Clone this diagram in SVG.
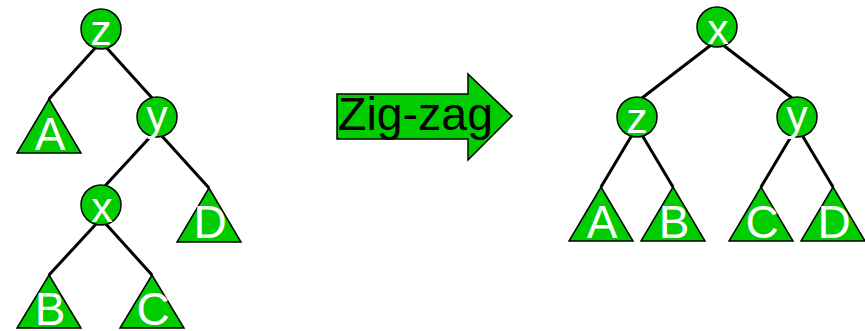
<svg xmlns="http://www.w3.org/2000/svg" width="865" height="331" viewBox="0 0 865 331">
<style>
.n{fill:#00cc00;stroke:#000;stroke-width:1.5}
.e{stroke:#000;stroke-width:3;fill:none}
.cl{font-family:"Liberation Sans",Arial,sans-serif;font-size:43px;fill:#fff;text-anchor:middle}
.tl{font-family:"Liberation Sans",Arial,sans-serif;font-size:46px;fill:#fff;text-anchor:middle}
</style>
<rect width="865" height="331" fill="#fff"/>
<g id="connectors">
<line class="e" x1="97" y1="46" x2="49" y2="99"/>
<line class="e" x1="105" y1="46" x2="153" y2="99"/>
<line class="e" x1="152" y1="135" x2="104" y2="187"/>
<line class="e" x1="161" y1="135" x2="209" y2="188"/>
<line class="e" x1="97" y1="223" x2="49" y2="275"/>
<line class="e" x1="105" y1="223" x2="152" y2="275"/>
<line class="e" x1="711" y1="45" x2="642" y2="98"/>
<line class="e" x1="723" y1="45" x2="792" y2="98"/>
<line class="e" x1="632" y1="135" x2="601" y2="187"/>
<line class="e" x1="642" y1="135" x2="673" y2="187"/>
<line class="e" x1="792" y1="135" x2="761" y2="187"/>
<line class="e" x1="802" y1="135" x2="833" y2="187"/>
</g>
<g id="L-z"><circle class="n" cx="101" cy="29" r="20"/><text class="cl" x="101" y="45">z</text></g>
<g id="L-y"><circle class="n" cx="157" cy="117" r="20"/><text class="cl" x="157" y="130">y</text></g>
<g id="L-x"><circle class="n" cx="101" cy="205" r="20"/><text class="cl" x="102" y="222">x</text></g>
<g id="L-A"><polygon class="n" points="49,99 81,153 17,153"/><text class="tl" x="50" y="150">A</text></g>
<g id="L-D"><polygon class="n" points="209,188 241,242 177,242"/><text class="tl" x="210" y="238">D</text></g>
<g id="L-B"><polygon class="n" points="49,275 81,328 17,328"/><text class="tl" x="50" y="325">B</text></g>
<g id="L-C"><polygon class="n" points="152,275 184,328 120,328"/><text class="tl" x="153" y="325">C</text></g>
<g id="arrow">
<polygon class="n" points="337,94 468,94 468,74 512,116 468,160 468,139 337,139"/>
<text x="338" y="130" font-family="Liberation Sans,Arial,sans-serif" font-size="46" fill="#000" textLength="155" lengthAdjust="spacingAndGlyphs">Zig-zag</text>
</g>
<g id="R-x"><circle class="n" cx="717" cy="27" r="20"/><text class="cl" x="718" y="44">x</text></g>
<g id="R-z"><circle class="n" cx="637" cy="117" r="20"/><text class="cl" x="637" y="133">z</text></g>
<g id="R-y"><circle class="n" cx="797" cy="117" r="20"/><text class="cl" x="797" y="130">y</text></g>
<g id="R-A"><polygon class="n" points="601,187 633,241 569,241"/><text class="tl" x="602" y="238">A</text></g>
<g id="R-B"><polygon class="n" points="673,187 705,241 641,241"/><text class="tl" x="674" y="238">B</text></g>
<g id="R-C"><polygon class="n" points="761,187 793,241 729,241"/><text class="tl" x="762" y="238">C</text></g>
<g id="R-D"><polygon class="n" points="833,187 865,241 801,241"/><text class="tl" x="834" y="238">D</text></g>
</svg>
